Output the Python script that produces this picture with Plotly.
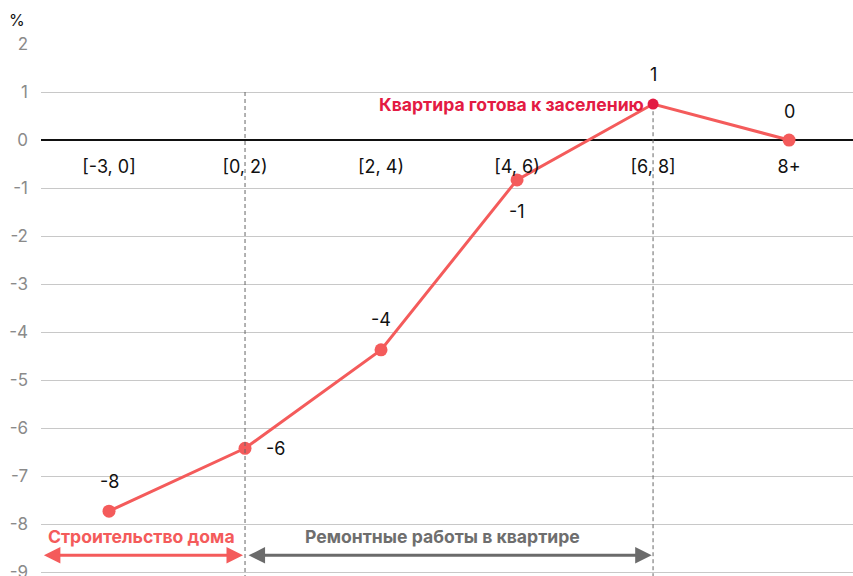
import plotly.graph_objects as go

# Data
categories = ["[-3, 0]", "[0, 2)", "[2, 4)", "[4, 6)", "[6, 8]", "8+"]
values = [-7.73, -6.42, -4.37, -0.83, 0.75, 0.0]
y_ticks = list(range(-9, 3))
ready_label = "Квартира готова к заселению"
phase_build = "Строительство дома"
phase_repair = "Ремонтные работы в квартире"

FONT = "Inter, Roboto, sans-serif"
CORAL = "#F45B5B"
CRIMSON = "#E31B43"
GREY_TXT = "#6E6E6E"

# value label placement per point: (xshift, yshift)
label_place = [(0, 30), (30, 0), (0, 30), (0, -32), (0, 30), (0, 29)]

marker_colors = [CORAL] * len(categories)
marker_sizes = [13] * len(categories)
marker_colors[4] = CRIMSON
marker_sizes[4] = 11

fig = go.Figure()
fig.add_trace(go.Scatter(
    x=categories, y=values, mode="lines+markers",
    line=dict(color=CORAL, width=3),
    marker=dict(color=marker_colors, size=marker_sizes, opacity=1, line=dict(width=0)),
    hoverinfo="skip", showlegend=False,
))

annotations = []
for cat, v, (dx, dy) in zip(categories, values, label_place):
    annotations.append(dict(
        x=cat, y=v, xref="x", yref="y", text=f"{round(v):d}",
        showarrow=False, xshift=dx, yshift=dy, xanchor="center", yanchor="middle",
        font=dict(family=FONT, size=18, color="#111111"),
    ))

# caption at the move-in point
annotations.append(dict(
    x=categories[4], y=values[4], xref="x", yref="y", text=f"<b>{ready_label}</b>",
    showarrow=False, xanchor="right", yanchor="middle", xshift=-7,
    font=dict(family=FONT, size=17.6, color=CRIMSON),
))

# phase arrows
arrow_y = -8.65
annotations.append(dict(
    x=0.985, y=arrow_y, ax=-0.49, ay=arrow_y, xref="x", yref="y", axref="x", ayref="y",
    text="", showarrow=True, arrowhead=2, startarrowhead=2, arrowside="end+start",
    arrowsize=1.1, startarrowsize=1.1, arrowwidth=3, arrowcolor=CORAL,
))
annotations.append(dict(
    x=3.99, y=arrow_y, ax=1.015, ay=arrow_y, xref="x", yref="y", axref="x", ayref="y",
    text="", showarrow=True, arrowhead=2, startarrowhead=2, arrowside="end+start",
    arrowsize=1.1, startarrowsize=1.1, arrowwidth=3, arrowcolor="#6B6B6B",
))
annotations.append(dict(
    x=0.24, y=-8.25, xref="x", yref="y", text=f"<b>{phase_build}</b>", showarrow=False,
    font=dict(family=FONT, size=17.6, color=CORAL),
))
annotations.append(dict(
    x=2.45, y=-8.25, xref="x", yref="y", text=f"<b>{phase_repair}</b>", showarrow=False,
    font=dict(family=FONT, size=17.6, color=GREY_TXT),
))
annotations.append(dict(
    x=0, y=1, xref="paper", yref="paper", xshift=-24, yshift=24, text="%",
    showarrow=False, xanchor="center", yanchor="middle",
    font=dict(family=FONT, size=16, color="#111111"),
))

shapes = [
    dict(type="line", xref="x", yref="y", x0=1, x1=1, y0=1.0, y1=-9.1,
         line=dict(color="#666666", width=1, dash="4px,3px")),
    dict(type="line", xref="x", yref="y", x0=4, x1=4, y0=values[4] - 0.15, y1=-9.1,
         line=dict(color="#666666", width=1, dash="4px,3px")),
]

fig.update_layout(
    width=853, height=576,
    margin=dict(l=41, r=0, t=44, b=0),
    paper_bgcolor="white", plot_bgcolor="white",
    font=dict(family=FONT),
    annotations=annotations, shapes=shapes,
    xaxis=dict(
        type="category", range=[-0.5, 5.47], showgrid=False, showline=False,
        zeroline=False, ticks="", anchor="free", position=436 / 532, automargin=False,
        ticklabelstandoff=14, tickfont=dict(family=FONT, size=18, color="#111111"),
    ),
    yaxis=dict(
        range=[-9.08, 2], tickvals=y_ticks, ticktext=[str(t) for t in y_ticks],
        showgrid=True, gridcolor="#C8C8C8", gridwidth=1, automargin=False,
        zeroline=True, zerolinecolor="#111111", zerolinewidth=2, showline=False,
        ticks="", ticklabelstandoff=12, ticklabeloverflow="allow",
        tickfont=dict(family=FONT, size=17, color="#8A8A8A"),
    ),
)

fig.write_html("out.html")
